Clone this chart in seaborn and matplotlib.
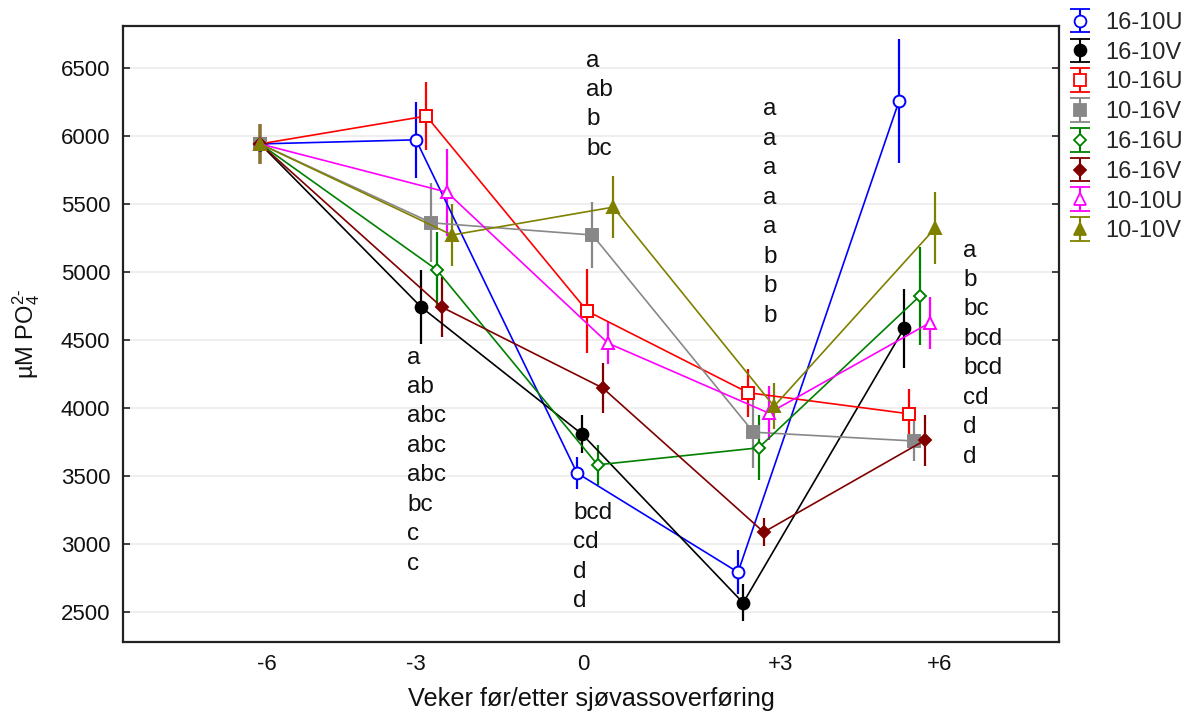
import numpy as np
import pandas as pd
import matplotlib
matplotlib.use("Agg")
import matplotlib.pyplot as plt
from matplotlib.container import ErrorbarContainer
from matplotlib.legend_handler import HandlerErrorbar
import seaborn as sns

# ---------------- data ----------------
weeks = ["-6", "-3", "0", "+3", "+6"]
series_names = ["16-10U", "16-10V", "10-16U", "10-16V",
                "16-16U", "16-16V", "10-10U", "10-10V"]

v_16_10U = [5940, 5970, 3520, 2790, 6255]
v_16_10V = [5940, 4740, 3805, 2565, 4585]
v_10_16U = [5940, 6145, 4710, 4110, 3955]
v_10_16V = [5940, 5360, 5270, 3820, 3755]
v_16_16U = [5940, 5015, 3580, 3705, 4820]
v_16_16V = [5940, 4740, 4145, 3085, 3760]
v_10_10U = [5940, 5585, 4475, 3960, 4625]
v_10_10V = [5940, 5270, 5475, 4010, 5320]

e_16_10U = [145, 280, 115, 160, 455]
e_16_10V = [145, 275, 140, 135, 290]
e_10_16U = [145, 250, 310, 175, 180]
e_10_16V = [145, 290, 245, 260, 150]
e_16_16U = [145, 275, 145, 240, 360]
e_16_16V = [145, 220, 185, 105, 190]
e_10_10U = [145, 320, 155, 200, 190]
e_10_10V = [145, 230, 230, 170, 265]

letters_m3 = ["a", "ab", "abc", "abc", "abc", "bc", "c", "c"]
letters_0_top = ["a", "ab", "b", "bc"]
letters_0_bot = ["bcd", "cd", "d", "d"]
letters_p3 = ["a", "a", "a", "a", "a", "b", "b", "b"]
letters_p6 = ["a", "b", "bc", "bcd", "bcd", "cd", "d", "d"]

values = [v_16_10U, v_16_10V, v_10_16U, v_10_16V, v_16_16U, v_16_16V, v_10_10U, v_10_10V]
errors = [e_16_10U, e_16_10V, e_10_16U, e_10_16V, e_16_16U, e_16_16V, e_10_10U, e_10_10V]

# ---------------- style ----------------
colors = ["#0000ff", "#000000", "#ff0000", "#888888",
          "#008000", "#800000", "#ff00ff", "#808000"]
markers = ["o", "o", "s", "s", "D", "D", "^", "^"]
msizes = [8.5, 8.5, 8.5, 8.5, 6.5, 6.5, 8.5, 8.5]
filled = [False, True, False, True, False, True, False, True]

sns.set_style("white")
plt.rcParams["font.family"] = ["Liberation Sans", "DejaVu Sans"]
plt.rcParams["mathtext.fontset"] = "custom"
plt.rcParams["mathtext.rm"] = "Liberation Sans"
plt.rcParams["mathtext.it"] = "Liberation Sans:italic"

# layout: category positions (week index), shared baseline, dodge per series
baseline_pos = -0.08
dodge = [-0.112 + 0.032 * i for i in range(len(series_names))]
tick_pos = [-0.04, 0.89, 1.93, 3.15, 4.14]

rows = []
for i, name in enumerate(series_names):
    for j, w in enumerate(weeks):
        pos = baseline_pos if j == 0 else j + dodge[i]
        rows.append(dict(series=name, week=w, pos=pos,
                         value=values[i][j], err=errors[i][j]))
df = pd.DataFrame(rows)

fig = plt.figure(figsize=(11.93, 7.15), dpi=100)
ax = fig.add_axes([0.1031, 0.1021, 0.7846, 0.8615])

legend_handles = []
for i, name in enumerate(series_names):
    d = df[df.series == name]
    c = colors[i]
    mfc = c if filled[i] else "white"
    ax.errorbar(d.pos, d.value, yerr=d.err, fmt="none", ecolor=c,
                elinewidth=1.6, capsize=0, zorder=2)
    sns.lineplot(data=d, x="pos", y="value", ax=ax, color=c, sort=False,
                 marker=markers[i], markersize=msizes[i],
                 markerfacecolor=mfc, markeredgecolor=c, markeredgewidth=1.4,
                 linewidth=1.2, legend=False, errorbar=None, zorder=3)
    # legend proxy (placed outside the visible x range)
    h = ax.errorbar([-5.0], [4000.0], yerr=[100.0], fmt=markers[i], color=c,
                    ecolor=c, markersize=msizes[i], markerfacecolor=mfc,
                    markeredgecolor=c, markeredgewidth=1.3,
                    elinewidth=1.5, capsize=7, capthick=1.5, linestyle="")
    legend_handles.append(h)

ax.set_xlim(-0.932, 4.882)
ax.set_ylim(2277, 6807)
ax.set_yticks(np.arange(2500, 6501, 500))
ax.set_xticks(tick_pos)
ax.set_xticklabels(weeks)

ax.yaxis.grid(True, color="#ececec", linewidth=1.2)
ax.xaxis.grid(False)
ax.set_axisbelow(True)

for s in ax.spines.values():
    s.set_color("#222222")
    s.set_linewidth(1.6)

ax.tick_params(axis="y", direction="in", length=5, width=1.2,
               left=True, right=True, labelsize=16, pad=9, colors="#222222")
ax.tick_params(axis="x", length=0, labelsize=16, pad=9)
for lab in ax.get_yticklabels() + ax.get_xticklabels():
    lab.set_color("#111111")

ax.set_xlabel("Veker før/etter sjøvassoverføring", fontsize=18.2, labelpad=8,
              color="#111111")
ax.set_ylabel(r"µM PO$_4^{2\text{-}}$", fontsize=17, labelpad=14, color="#111111")

# significance letters
blocks = [
    (0.832, 4325, letters_m3),
    (1.944, 6509, letters_0_top),
    (1.863, 3182, letters_0_bot),
    (3.043, 6149, letters_p3),
    (4.286, 5112, letters_p6),
]
for bx, by, labs in blocks:
    for k, t in enumerate(labs):
        ax.annotate(t, xy=(bx, by), xytext=(0, -21.2 * k),
                    textcoords="offset points", ha="left", va="baseline",
                    fontsize=17.5, color="#111111")

fig.legend(legend_handles, series_names, loc="upper left",
           bbox_to_anchor=(1054 / 1193, 1.0), frameon=False,
           fontsize=17, handlelength=1.2, handletextpad=0.45,
           labelspacing=0.33, borderpad=0.0,
           handler_map={ErrorbarContainer: HandlerErrorbar(xerr_size=0.5)})

fig.savefig("out.png", dpi=100)
